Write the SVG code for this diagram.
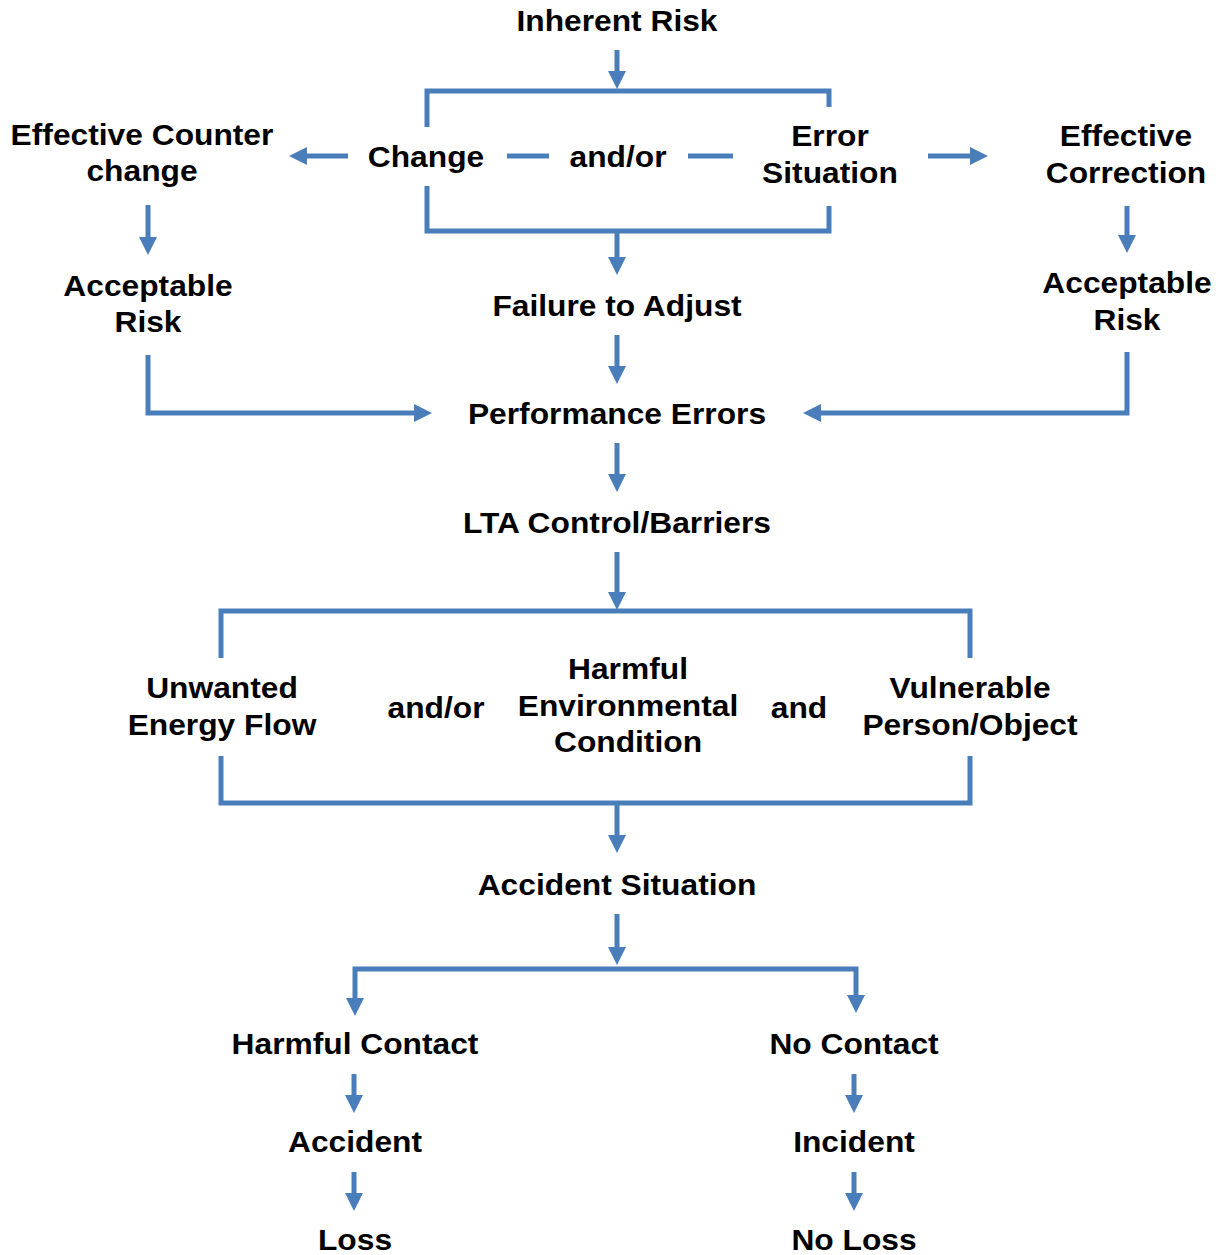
<svg xmlns="http://www.w3.org/2000/svg" width="1225" height="1255" viewBox="0 0 1225 1255">
<style>
text{font-family:"Liberation Sans",Arial,sans-serif;font-weight:bold;font-size:29px;fill:#000;text-anchor:middle}
.c{fill:none;stroke:#4a7ebb;stroke-width:5}
.a{marker-end:url(#ah)}
</style>
<defs>
<marker id="ah" markerUnits="userSpaceOnUse" markerWidth="18" markerHeight="18" refX="1" refY="9" orient="auto" viewBox="0 0 18 18">
<path d="M0,0 L18,9 L0,18 z" fill="#4a7ebb"/>
</marker>
</defs>
<rect width="1225" height="1255" fill="#fff"/>
<g id="connectors">
<path class="c a" d="M617,50 V72"/>
<path class="c" d="M427,127 V91 H829 V107"/>
<path class="c" d="M427,186 V231 H829 V206"/>
<path class="c" d="M507,156 H549 M688,156 H733"/>
<path class="c a" d="M348,156 H306"/>
<path class="c a" d="M928,156 H971"/>
<path class="c a" d="M617,231 V258"/>
<path class="c a" d="M148,205 V238"/>
<path class="c a" d="M1127,206 V236"/>
<path class="c a" d="M148,355 V413 H415"/>
<path class="c a" d="M1127,352 V413 H820"/>
<path class="c a" d="M617,335 V367"/>
<path class="c a" d="M617,443 V475"/>
<path class="c a" d="M617,552 V593"/>
<path class="c" d="M221,658 V611 H970 V658"/>
<path class="c" d="M221,756 V803 H970 V756"/>
<path class="c a" d="M617,803 V836"/>
<path class="c a" d="M617,914 V948"/>
<path class="c a" d="M617,969 H355 V999"/>
<path class="c a" d="M617,969 H856 V996"/>
<path class="c a" d="M354,1074 V1096"/>
<path class="c a" d="M354,1172 V1194"/>
<path class="c a" d="M854,1074 V1096"/>
<path class="c a" d="M854,1172 V1194"/>
</g>
<g id="inherent-risk"><text transform="translate(617 31) scale(1.095 1)">Inherent Risk</text></g>
<g id="change"><text transform="translate(426 167) scale(1.095 1)">Change</text></g>
<g id="andor1"><text transform="translate(618 167) scale(1.095 1)">and/or</text></g>
<g id="error-situation"><text transform="translate(830 146) scale(1.095 1)">Error</text><text transform="translate(830 183) scale(1.095 1)">Situation</text></g>
<g id="effective-counter"><text transform="translate(142 145) scale(1.095 1)">Effective Counter</text><text transform="translate(142 181) scale(1.095 1)">change</text></g>
<g id="acceptable-left"><text transform="translate(148 296) scale(1.095 1)">Acceptable</text><text transform="translate(148 332) scale(1.095 1)">Risk</text></g>
<g id="effective-correction"><text transform="translate(1126 146) scale(1.095 1)">Effective</text><text transform="translate(1126 183) scale(1.095 1)">Correction</text></g>
<g id="acceptable-right"><text transform="translate(1127 293) scale(1.095 1)">Acceptable</text><text transform="translate(1127 330) scale(1.095 1)">Risk</text></g>
<g id="failure"><text transform="translate(617 316) scale(1.095 1)">Failure to Adjust</text></g>
<g id="performance"><text transform="translate(617 424) scale(1.095 1)">Performance Errors</text></g>
<g id="lta"><text transform="translate(617 533) scale(1.095 1)">LTA Control/Barriers</text></g>
<g id="unwanted"><text transform="translate(222 698) scale(1.095 1)">Unwanted</text><text transform="translate(222 735) scale(1.095 1)">Energy Flow</text></g>
<g id="andor2"><text transform="translate(436 718) scale(1.095 1)">and/or</text></g>
<g id="harmful-env"><text transform="translate(628 679) scale(1.095 1)">Harmful</text><text transform="translate(628 716) scale(1.095 1)">Environmental</text><text transform="translate(628 752) scale(1.095 1)">Condition</text></g>
<g id="and"><text transform="translate(799 718) scale(1.095 1)">and</text></g>
<g id="vulnerable"><text transform="translate(970 698) scale(1.095 1)">Vulnerable</text><text transform="translate(970 735) scale(1.095 1)">Person/Object</text></g>
<g id="accident-situation"><text transform="translate(617 895) scale(1.095 1)">Accident Situation</text></g>
<g id="harmful-contact"><text transform="translate(355 1054) scale(1.095 1)">Harmful Contact</text></g>
<g id="no-contact"><text transform="translate(854 1054) scale(1.095 1)">No Contact</text></g>
<g id="accident"><text transform="translate(355 1152) scale(1.095 1)">Accident</text></g>
<g id="incident"><text transform="translate(854 1152) scale(1.095 1)">Incident</text></g>
<g id="loss"><text transform="translate(355 1250) scale(1.095 1)">Loss</text></g>
<g id="no-loss"><text transform="translate(854 1250) scale(1.095 1)">No Loss</text></g>
</svg>
